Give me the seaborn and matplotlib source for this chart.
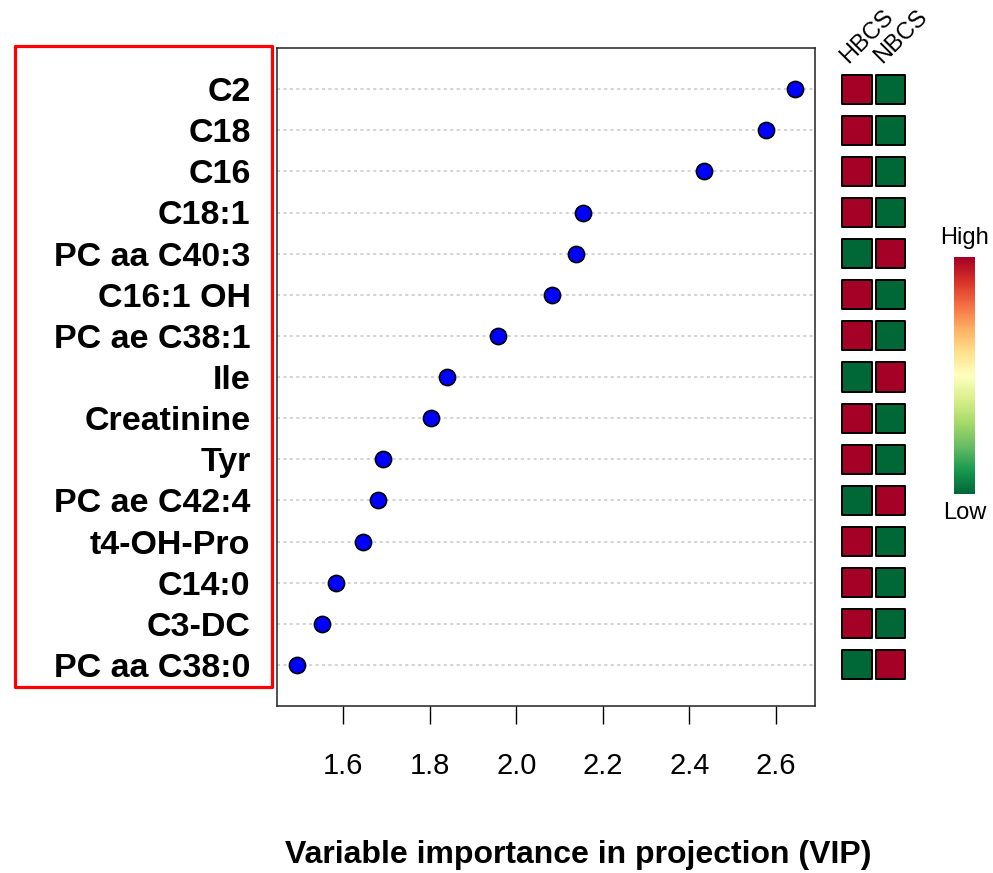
import numpy as np
import pandas as pd
import matplotlib
matplotlib.use("Agg")
import matplotlib.pyplot as plt
import seaborn as sns
from matplotlib.patches import Rectangle
from matplotlib.cm import ScalarMappable

# VIP scores of the top metabolites, highest first
metabolites = ["C2", "C18", "C16", "C18:1", "PC aa C40:3", "C16:1 OH",
               "PC ae C38:1", "Ile", "Creatinine", "Tyr", "PC ae C42:4",
               "t4-OH-Pro", "C14:0", "C3-DC", "PC aa C38:0"]
vip = [2.644, 2.577, 2.434, 2.155, 2.137, 2.083, 1.958, 1.840, 1.803,
       1.691, 1.681, 1.646, 1.583, 1.551, 1.493]

# relative level in each group (1 = high, 0 = low)
groups = ["HBCS", "NBCS"]
hbcs_level = [1, 1, 1, 1, 0, 1, 1, 0, 1, 1, 0, 1, 1, 1, 0]
nbcs_level = [0, 0, 0, 0, 1, 0, 0, 1, 0, 0, 1, 0, 0, 0, 1]

x_ticks = [1.6, 1.8, 2.0, 2.2, 2.4, 2.6]

sns.set_style("white")
plt.rcParams["font.family"] = ["Liberation Sans", "DejaVu Sans"]
plt.rcParams["text.color"] = "black"

W, H = 993, 873
fig = plt.figure(figsize=(W / 100, H / 100), dpi=100)


def box(x0, y0, x1, y1):
    """Pixel box (top-left origin) -> figure-fraction rect."""
    return [x0 / W, 1 - y1 / H, (x1 - x0) / W, (y1 - y0) / H]


n = len(metabolites)
rows = np.arange(n)[::-1]
df = pd.DataFrame({"metabolite": metabolites, "vip": vip, "row": rows})

# ---- dot chart ----
ax = fig.add_axes(box(277, 48, 815, 706))
for r in rows:
    ax.axhline(r, color="#c8c8c8", lw=1.1, dashes=(2, 2.2), zorder=0)
sns.scatterplot(data=df, x="vip", y="row", ax=ax, s=135, color="#0000ff",
                edgecolor="black", linewidth=1.2, zorder=3, legend=False)
span = max(vip) - min(vip)
ax.set_xlim(min(vip) - 0.04 * span, max(vip) + 0.04 * span)
ax.set_ylim(-1, n)
ax.set_xticks(x_ticks, labels=[f"{t:.1f}" for t in x_ticks])
ax.set_yticks(rows, labels=metabolites)
for lab in ax.get_yticklabels():
    lab.set_fontweight("bold")
ax.tick_params(axis="x", bottom=True, length=13, width=1.0, pad=20,
               labelsize=21, direction="out", color="black", labelcolor="black")
ax.tick_params(axis="y", left=False, length=0, pad=19, labelsize=24.5,
               labelcolor="black")
ax.set_xlabel("")
ax.set_ylabel("")
for sp in ax.spines.values():
    sp.set_color("#222222")
    sp.set_linewidth(1.1)

# ---- group level squares ----
cmap = sns.color_palette("RdYlGn_r", as_cmap=True)
heat = pd.DataFrame({
    "row": np.concatenate([rows, rows]),
    "col": [0] * n + [1] * n,
    "level": hbcs_level + nbcs_level,
})
axh = fig.add_axes(box(840.25, 48, 907.25, 706))
sns.scatterplot(data=heat, x="col", y="row", hue="level",
                palette={1: cmap(1.0), 0: cmap(0.0)}, marker="s", s=440,
                edgecolor="black", linewidth=1.4, ax=axh, legend=False)
axh.set_xlim(-0.5, 1.5)
axh.set_ylim(-1, n)
axh.axis("off")
for i, g in enumerate(groups):
    axh.text(i - 0.25, n - 1 + 0.62, g, rotation=45, rotation_mode="anchor",
             ha="left", va="baseline", fontsize=17, color="black",
             clip_on=False)

# ---- colour key ----
cax = fig.add_axes(box(954, 257, 975, 494))
cb = fig.colorbar(ScalarMappable(cmap=cmap), cax=cax)
cb.set_ticks([])
cb.outline.set_visible(False)
fig.text(965 / W, 1 - 238 / H, "High", ha="center", va="center", fontsize=17)
fig.text(965 / W, 1 - 513 / H, "Low", ha="center", va="center", fontsize=17)

# ---- axis title and highlight frame ----
fig.text(578 / W, 1 - 855 / H, "Variable importance in projection (VIP)",
         ha="center", va="center", fontsize=23, fontweight="bold")
fig.patches.append(Rectangle((14.5 / W, 1 - 686.5 / H), 257 / W, 641 / H,
                             transform=fig.transFigure, fill=False,
                             edgecolor="#ff0000", linewidth=2.3,
                             joinstyle="round"))

fig.savefig("out.png", dpi=100)
